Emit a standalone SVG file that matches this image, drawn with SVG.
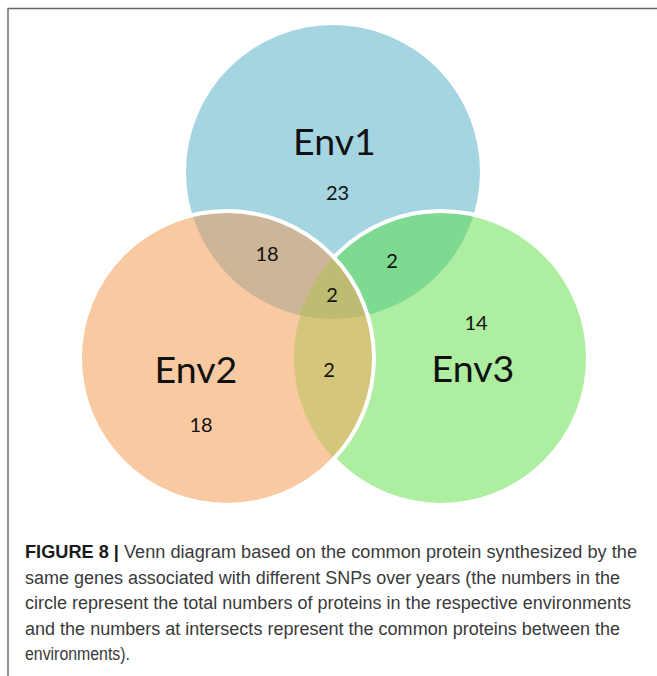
<svg xmlns="http://www.w3.org/2000/svg" width="657" height="676" viewBox="0 0 657 676">
<style>
.lbl{font-family:Lato,"Open Sans","Liberation Sans",sans-serif;font-size:37.5px;fill:#111;text-anchor:middle}
.num{font-family:Lato,"Open Sans","Liberation Sans",sans-serif;font-size:20px;fill:#111;text-anchor:middle}
.cap{font-family:"Liberation Sans",Arial,sans-serif;font-size:18px;fill:#3a3a3a}
.capb{font-weight:bold;fill:#1a1a1a}
.edge{fill:none;stroke:#fff;stroke-width:4}
</style>
<defs>
<clipPath id="cA"><circle cx="333" cy="172" r="147"/></clipPath>
<clipPath id="cB"><circle cx="227" cy="358" r="147"/></clipPath>
<clipPath id="cC"><circle cx="441" cy="358" r="147"/></clipPath>
<clipPath id="notB"><path clip-rule="evenodd" d="M0 0H657V676H0Z M80 358a147 147 0 1 0 294 0a147 147 0 1 0 -294 0Z"/></clipPath>
</defs>
<rect width="657" height="676" fill="#fff"/>
<path d="M8 676V8.5H657" fill="none" stroke="#666" stroke-width="1.4"/>

<g id="env1"><circle cx="333" cy="172" r="147" fill="#a6d5e2"/></g>
<g id="env3"><circle cx="441" cy="358" r="147" fill="#aeeea0"/></g>
<g id="env2"><circle cx="227" cy="358" r="147" fill="#f9c9a2"/></g>

<g id="env1-env2"><circle cx="227" cy="358" r="147" fill="#cdb598" clip-path="url(#cA)"/></g>
<g id="env1-env3"><circle cx="441" cy="358" r="147" fill="#7ed991" clip-path="url(#cA)"/></g>
<g id="env2-env3"><circle cx="441" cy="358" r="147" fill="#d4c67a" clip-path="url(#cB)"/></g>
<g id="env1-env2-env3"><g clip-path="url(#cA)"><circle cx="441" cy="358" r="147" fill="#bebb72" clip-path="url(#cB)"/></g></g>

<g id="connectors">
<circle class="edge" cx="441" cy="358" r="147" clip-path="url(#notB)"/>
<circle class="edge" cx="227" cy="358" r="147"/>
</g>

<g id="labels">
<text class="lbl" x="334.5" y="155">Env1</text>
<text class="num" x="337.5" y="200">23</text>
<text class="lbl" x="196" y="383">Env2</text>
<text class="num" x="201" y="432">18</text>
<text class="lbl" x="473" y="382">Env3</text>
<text class="num" x="476" y="330">14</text>
<text class="num" x="267" y="261">18</text>
<text class="num" x="392" y="268">2</text>
<text class="num" x="332" y="302">2</text>
<text class="num" x="329" y="377">2</text>
</g>

<g id="caption">
<text class="cap" x="25" y="558" textLength="612" lengthAdjust="spacingAndGlyphs"><tspan class="capb">FIGURE 8 |</tspan> Venn diagram based on the common protein synthesized by the</text>
<text class="cap" x="25" y="583.5" textLength="595" lengthAdjust="spacingAndGlyphs">same genes associated with different SNPs over years (the numbers in the</text>
<text class="cap" x="25" y="609" textLength="606" lengthAdjust="spacingAndGlyphs">circle represent the total numbers of proteins in the respective environments</text>
<text class="cap" x="25" y="634.5" textLength="595" lengthAdjust="spacingAndGlyphs">and the numbers at intersects represent the common proteins between the</text>
<text class="cap" x="25" y="660" textLength="105" lengthAdjust="spacingAndGlyphs">environments).</text>
</g>
</svg>
